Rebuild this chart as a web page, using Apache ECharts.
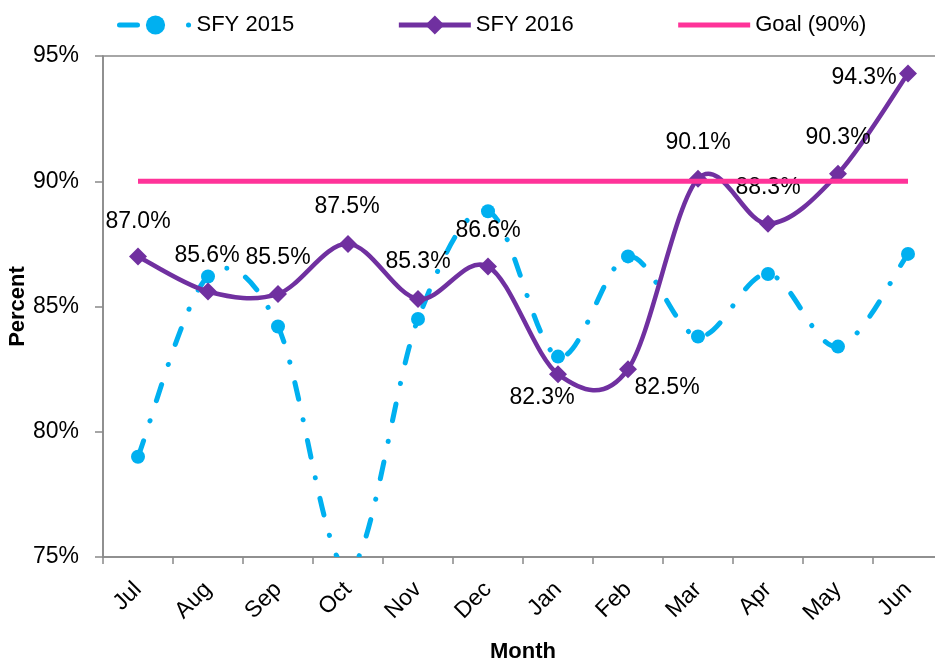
<!DOCTYPE html>
<html><head><meta charset="utf-8">
<script src="https://cdn.jsdelivr.net/npm/echarts@6/dist/echarts.min.js"></script>
<style>html,body{margin:0;padding:0;background:#fff}#c{width:935px;height:662px}</style>
</head><body><div id="c"></div>
<script>
const months = ['Jul','Aug','Sep','Oct','Nov','Dec','Jan','Feb','Mar','Apr','May','Jun'];
const sfy2015 = [79.0, 86.2, 84.2, 74.5, 84.5, 88.8, 83.0, 87.0, 83.8, 86.3, 83.4, 87.1];
const sfy2016 = [87.0, 85.6, 85.5, 87.5, 85.3, 86.6, 82.3, 82.5, 90.1, 88.3, 90.3, 94.3];
const goal90 = [90, 90, 90, 90, 90, 90, 90, 90, 90, 90, 90, 90];
const yMin = 75, yMax = 95, yStep = 5;

// label offsets (layout only) for SFY 2016 data labels
const labelOffsets = [[0,-35],[-1,-36],[0,-36],[-1,-37],[0,-37],[0,-36],[-16,24],[39,19],[0,-36],[0,-36],[0,-36],[-44,4]];

const FONT = 'Liberation Sans, Arial, sans-serif';
const AXIS = '#898989';
const BLUE = '#00B0F0', PURPLE = '#7030A0', PINK = '#FF3399';

// Excel-style smoothed line (Catmull-Rom Bezier) drawn through the chart's own axes
function smoothLine(values, style) {
  return function (params, api) {
    const pts = values.map((v, i) => api.coord([i, v]));
    let d = 'M' + pts[0][0] + ',' + pts[0][1];
    for (let i = 0; i < pts.length - 1; i++) {
      const p0 = pts[Math.max(i - 1, 0)], p1 = pts[i], p2 = pts[i + 1], p3 = pts[Math.min(i + 2, pts.length - 1)];
      const c1 = [p1[0] + (p2[0] - p0[0]) / 6, p1[1] + (p2[1] - p0[1]) / 6];
      const c2 = [p2[0] - (p3[0] - p1[0]) / 6, p2[1] - (p3[1] - p1[1]) / 6];
      d += ' C' + c1[0] + ',' + c1[1] + ' ' + c2[0] + ',' + c2[1] + ' ' + p2[0] + ',' + p2[1];
    }
    return {type: 'path', shape: {pathData: d}, style: Object.assign({fill: 'none'}, style)};
  };
}

const chart = echarts.init(document.getElementById('c'), null, {renderer:'canvas'});
chart.setOption({
  animation: false,
  backgroundColor: '#fff',
  textStyle: {fontFamily: FONT, color: '#000'},
  legend: {
    left: 117, top: 14, padding: 0,
    itemWidth: 72, itemHeight: 24, itemGap: 102,
    textStyle: {fontFamily: FONT, fontSize: 22, color: '#000'},
    data: [
      {name: 'SFY 2015', lineStyle: {width: 5, opacity: 1, type: [18, 51, 0.1, 100], cap: 'round', color: BLUE}},
      {name: 'SFY 2016', lineStyle: {width: 5, opacity: 1, color: PURPLE}},
      {name: 'Goal (90%)', lineStyle: {width: 5, opacity: 1, color: PINK}, itemStyle: {opacity: 0}}
    ]
  },
  grid: {left: 103, right: -8, top: 56, bottom: 105, show: true, borderColor: AXIS, borderWidth: 1.5, backgroundColor: 'transparent', containLabel: false, outerBoundsMode: 'none'},
  xAxis: {
    type: 'category', data: months, boundaryGap: true,
    name: 'Month', nameLocation: 'middle', nameGap: 84, nameMoveOverlap: false,
    nameTextStyle: {fontFamily: FONT, fontSize: 22, fontWeight: 'bold', color: '#000'},
    axisLine: {lineStyle: {color: AXIS, width: 1.5}},
    axisTick: {show: true, length: 7, interval: 0, lineStyle: {color: AXIS, width: 1.5}},
    axisLabel: {interval: 0, rotate: 45, margin: 29, fontFamily: FONT, fontSize: 23, color: '#000'},
    splitLine: {show: false}
  },
  yAxis: {
    type: 'value', min: yMin, max: yMax, interval: yStep,
    name: 'Percent', nameLocation: 'middle', nameGap: 74, nameRotate: 90, nameMoveOverlap: false,
    nameTextStyle: {fontFamily: FONT, fontSize: 22, fontWeight: 'bold', color: '#000'},
    axisLine: {show: true, lineStyle: {color: AXIS, width: 1.5}},
    axisTick: {show: true, length: 8, lineStyle: {color: AXIS, width: 1.5}},
    axisLabel: {formatter: '{value}%', margin: 24, fontFamily: FONT, fontSize: 23, color: '#000'},
    splitLine: {show: false}
  },
  series: [
    {
      type: 'custom', name: 'curve2015', clip: true, silent: true, z: 2,
      data: [[0, sfy2015[0]]],
      renderItem: smoothLine(sfy2015, {stroke: BLUE, lineWidth: 5, lineDash: [17, 21, 0.1, 21], lineCap: 'round'})
    },
    {
      name: 'SFY 2015', type: 'line', data: sfy2015, clip: true,
      symbol: 'circle', symbolSize: 14, showAllSymbol: true,
      itemStyle: {color: BLUE},
      lineStyle: {color: BLUE, width: 0, opacity: 0},
      z: 2
    },
    {
      type: 'custom', name: 'curve2016', clip: true, silent: true, z: 3,
      data: [[0, sfy2016[0]]],
      renderItem: smoothLine(sfy2016, {stroke: PURPLE, lineWidth: 4.5, lineJoin: 'round'})
    },
    {
      name: 'SFY 2016', type: 'line', clip: true,
      data: sfy2016.map((v, i) => ({value: v, label: {offset: labelOffsets[i]}})),
      symbol: 'diamond', symbolSize: 18, showAllSymbol: true,
      itemStyle: {color: PURPLE},
      lineStyle: {color: PURPLE, width: 0, opacity: 0},
      label: {show: true, position: 'inside', fontFamily: FONT, fontSize: 23, color: '#000',
        formatter: p => p.value.toFixed(1) + '%'},
      z: 3
    },
    {
      name: 'Goal (90%)', type: 'line', data: goal90, symbol: 'none', showSymbol: false,
      itemStyle: {color: PINK},
      lineStyle: {color: PINK, width: 5},
      z: 4
    }
  ]
});
</script></body></html>
